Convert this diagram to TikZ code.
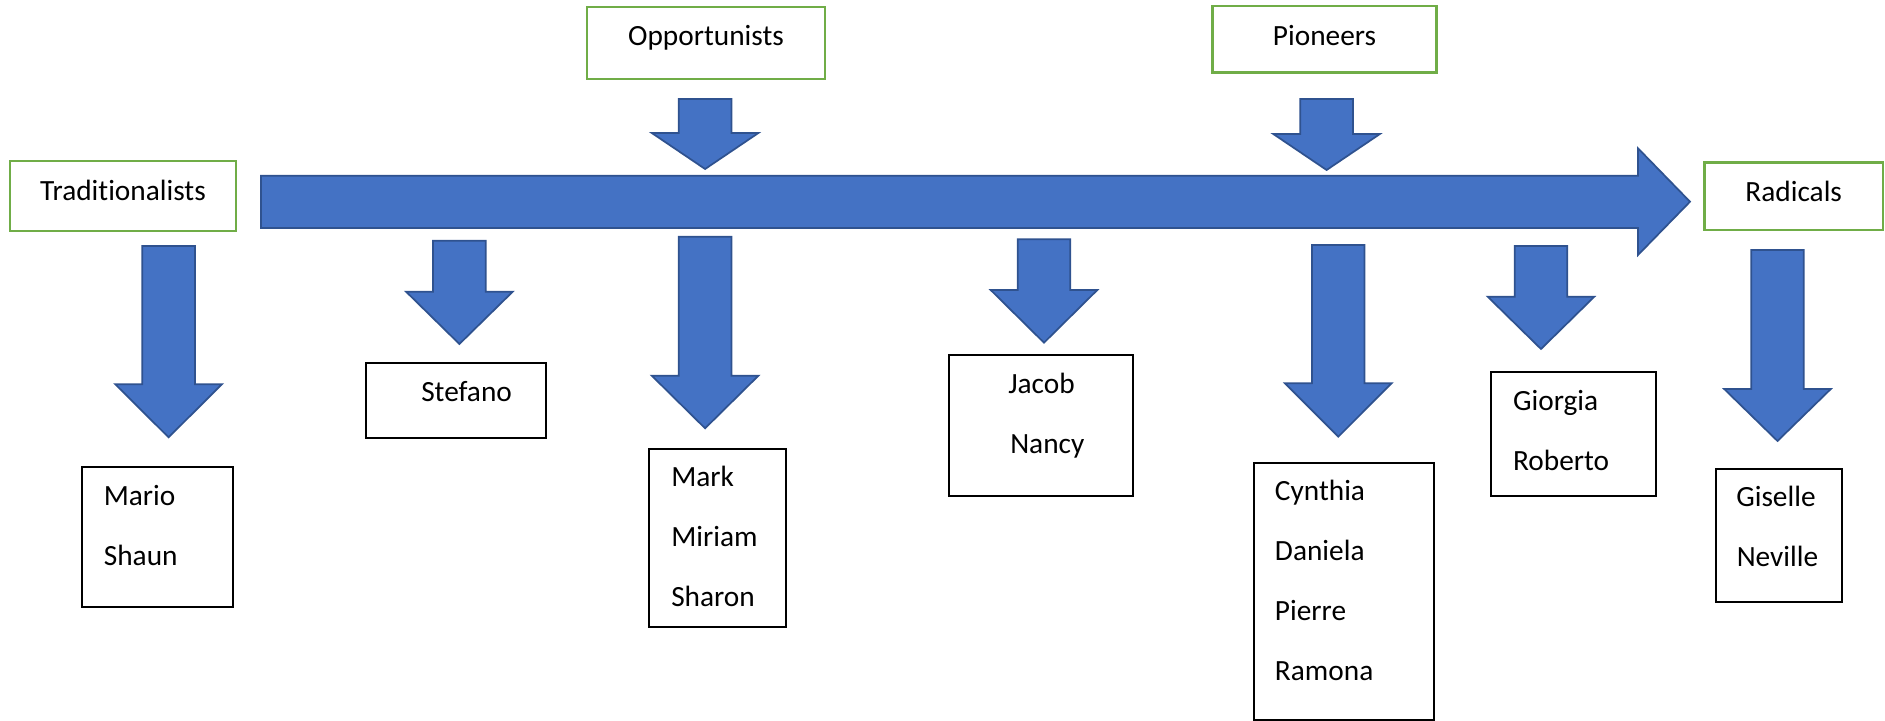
\documentclass[tikz,border=0pt]{standalone}
\usepackage{fontspec}
\setmainfont{Carlito}[Ligatures=NoCommon]
\usetikzlibrary{fit}
\definecolor{arrowblue}{HTML}{4472C4}
\definecolor{arrowedge}{HTML}{2F528F}
\definecolor{boxgreen}{HTML}{70AD47}
\newcommand\blockdown[4]{% center x, top, wing y, tip y
  \filldraw[blockarrow] ({#1-26.3},#2) -- ({#1+26.3},#2) -- ({#1+26.3},#3) -- ({#1+53.3},#3)
    -- (#1,#4) -- ({#1-53.3},#3) -- ({#1-26.3},#3) -- cycle;}
\begin{document}
\begin{tikzpicture}[x=0.75pt,y=-0.75pt,
  blockarrow/.style={fill=arrowblue,draw=arrowedge,line width=1.3pt},
  greenbox/.style={draw=boxgreen,line width=2pt,inner sep=0pt},
  blackbox/.style={draw=black,line width=1.5pt,inner sep=0pt},
  lbl/.style={inner sep=0pt,font=\fontsize{22pt}{26pt}\selectfont}]
\useasboundingbox (0,0) rectangle (1885,721);
% main arrow
\filldraw[blockarrow] (261,175.7) -- (1638,175.7) -- (1638,148.3) -- (1690,201.7)
  -- (1638,255) -- (1638,228) -- (261,228) -- cycle;
% down arrows
\blockdown{168.6}{246}{384.3}{437.3}
\blockdown{459.4}{240.7}{291.7}{344}
\blockdown{705.1}{99}{133}{169}
\blockdown{705.1}{236.7}{375.7}{428.3}
\blockdown{1044}{239.3}{290}{342.7}
\blockdown{1326.6}{99}{134}{170}
\blockdown{1338.3}{245}{383.3}{436.7}
\blockdown{1541}{246}{296.7}{349}
\blockdown{1777.5}{250}{389}{441}
% green boxes
\node[greenbox,fit={(10,161) (236,231)}] (trad) {};
\node[lbl,anchor=base] (tradt) at (123,200) {Traditionalists};
\node[greenbox,fit={(587,7) (825,79)}] (opp) {};
\node[lbl,anchor=base] (oppt) at (706,45) {Opportunists};
\node[greenbox,fit={(1212.4,6) (1436.6,72.7)}] (pio) {};
\node[lbl,anchor=base] (piot) at (1324.5,45) {Pioneers};
\node[greenbox,fit={(1704.4,162.3) (1883,230)}] (rad) {};
\node[lbl,anchor=base] (radt) at (1793.7,201.7) {Radicals};
% black boxes
\node[blackbox,fit={(366.3,362.7) (546,438)}] (stefano) {};
\node[lbl,anchor=base west] (stefanot) at (421,401.7) {Stefano};
\node[blackbox,fit={(81.6,466.7) (233.2,607)}] (mario) {};
\node[lbl,anchor=base west] (mariot) at (103.6,505.7) {Mario};
\node[lbl,anchor=base west] (shaunt) at (103.6,565) {Shaun};
\node[blackbox,fit={(649,448.7) (785.7,627)}] (mark) {};
\node[lbl,anchor=base west] (markt) at (671,486.7) {Mark};
\node[lbl,anchor=base west] (miriamt) at (671,546.7) {Miriam};
\node[lbl,anchor=base west] (sharont) at (671,606.7) {Sharon};
\node[blackbox,fit={(948.8,354.7) (1132.9,496.3)}] (jacob) {};
\node[lbl,anchor=base west] (jacobt) at (1008,393.3) {Jacob};
\node[lbl,anchor=base west] (nancyt) at (1010,453.3) {Nancy};
\node[blackbox,fit={(1254,462.7) (1434,719.5)}] (cynthia) {};
\node[lbl,anchor=base west] (cynthiat) at (1274.7,500) {Cynthia};
\node[lbl,anchor=base west] (danielat) at (1274.7,560) {Daniela};
\node[lbl,anchor=base west] (pierret) at (1274.7,620) {Pierre};
\node[lbl,anchor=base west] (ramonat) at (1274.7,680) {Ramona};
\node[blackbox,fit={(1491.3,372) (1656,496.3)}] (giorgia) {};
\node[lbl,anchor=base west] (giorgiat) at (1512.8,410) {Giorgia};
\node[lbl,anchor=base west] (robertot) at (1512.8,470) {Roberto};
\node[blackbox,fit={(1715.5,469.3) (1841.5,601.7)}] (giselle) {};
\node[lbl,anchor=base west] (gisellet) at (1736,506.7) {Giselle};
\node[lbl,anchor=base west] (nevillet) at (1736.5,566.7) {Neville};
\end{tikzpicture}
\end{document}
